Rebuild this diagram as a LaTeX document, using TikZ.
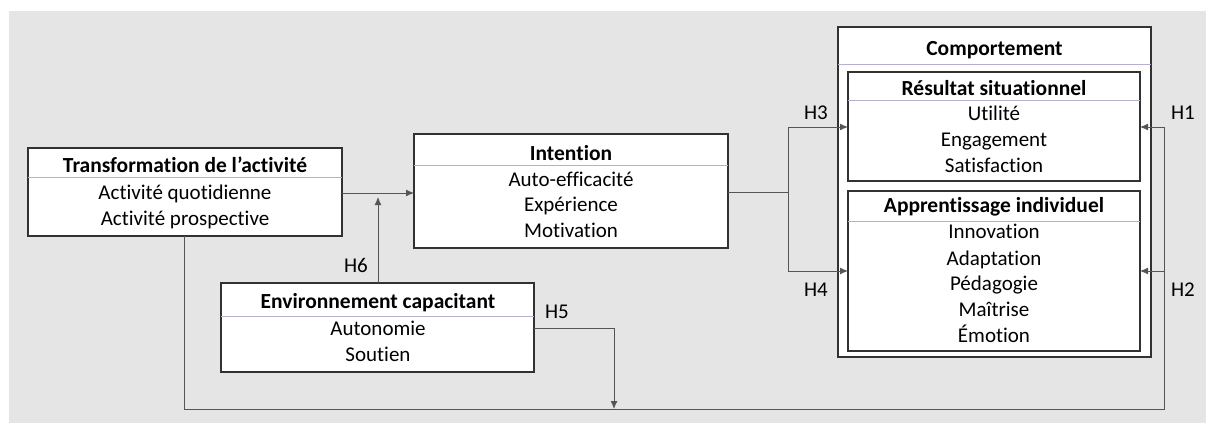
\documentclass[tikz,border=0pt]{standalone}
\usepackage{fontspec}
\setmainfont[Ligatures={NoCommon}]{Carlito}
\usetikzlibrary{arrows.meta}
\definecolor{bg}{RGB}{230,229,229}
\definecolor{sep}{RGB}{185,175,205}
\definecolor{boxline}{RGB}{50,50,50}
\definecolor{conn}{RGB}{85,85,85}
\tikzset{
  boxframe/.style={draw=boxline, line width=1.3pt, fill=white},
  sepline/.style={draw=sep, line width=0.8pt},
  txt/.style={inner sep=0pt, anchor=base},
  ttl/.style={txt, font=\fontsize{21.5}{24}\selectfont\bfseries},
  itm/.style={txt, font=\fontsize{21}{24}\selectfont},
  lbl/.style={txt, font=\fontsize{21}{24}\selectfont},
  conline/.style={draw=conn, line width=1pt},
  arr/.style={conline, -{Latex[length=8pt,width=7pt]}}
}
\begin{document}
\begin{tikzpicture}[x=1pt,y=-1pt]
\useasboundingbox (0,0) rectangle (1206,423);
\fill[white] (0,0) rectangle (1206,423);
\fill[bg] (9,11) rectangle (1206,423);

% Transformation box
\draw[boxframe] (28,148) rectangle (342,236);
\draw[sepline] (28,177) -- (342,177);
\node[ttl] (tt) at (185,172.7) {Transformation de l’activité};
\node[itm] (t1) at (185,199.3) {Activité quotidienne};
\node[itm] (t2) at (185,225.3) {Activité prospective};
\coordinate (tR) at (342,193);
\coordinate (tB) at (184,236);

% Intention box
\draw[boxframe] (414,134) rectangle (728,248);
\draw[sepline] (414,165) -- (728,165);
\node[ttl] (it) at (571,160) {Intention};
\node[itm] (i1) at (571,186) {Auto-efficacité};
\node[itm] (i2) at (571,211.7) {Expérience};
\node[itm] (i3) at (571,237.3) {Motivation};
\coordinate (iL) at (414,193);
\coordinate (iR) at (728,192);

% Environnement box
\draw[boxframe] (221,283) rectangle (534,372);
\draw[sepline] (221,316) -- (534,316);
\node[ttl] (et) at (378,308.3) {Environnement capacitant};
\node[itm] (e1) at (378,335) {Autonomie};
\node[itm] (e2) at (378,361) {Soutien};
\coordinate (eT) at (378,283);
\coordinate (eR) at (534,328);

% Comportement outer box
\draw[boxframe] (838,27) rectangle (1151,357);
\draw[sepline] (838,64) -- (1151,64);
\node[ttl] (ct) at (994.5,55) {Comportement};

% Résultat box
\draw[boxframe] (848,72) rectangle (1140,181);
\draw[sepline] (848,100) -- (1140,100);
\node[ttl] (rt) at (994,95) {Résultat situationnel};
\node[itm] (r1) at (994,120.7) {Utilité};
\node[itm] (r2) at (994,146.7) {Engagement};
\node[itm] (r3) at (994,172.7) {Satisfaction};
\coordinate (rL) at (848,127);
\coordinate (rR) at (1140,127);

% Apprentissage box
\draw[boxframe] (848,191) rectangle (1140,351);
\draw[sepline] (848,221) -- (1140,221);
\node[ttl] (at) at (994,212.3) {Apprentissage individuel};
\node[itm] (a1) at (994,238.3) {Innovation};
\node[itm] (a2) at (994,265) {Adaptation};
\node[itm] (a3) at (994,290.7) {Pédagogie};
\node[itm] (a4) at (994,316.7) {Maîtrise};
\node[itm] (a5) at (994,342.7) {Émotion};
\coordinate (aL) at (848,271);
\coordinate (aR) at (1140,271);

% connectors
\draw[arr] (tR) -- (iL);
\coordinate (h6end) at (378,197);
\draw[arr] (eT) -- (h6end);
\node[lbl] (h6) at (356,272.7) {H6};

\coordinate (br) at (788,192);
\draw[conline] (iR) -- (br);
\draw[arr] (br) |- (rL);
\draw[arr] (br) |- (aL);
\node[lbl] (h3) at (816,119) {H3};
\node[lbl] (h4) at (816,296.7) {H4};

\coordinate (bl) at (184,409);
\coordinate (brc) at (1164,409);
\coordinate (bu1) at (1164,127);
\coordinate (bu2) at (1164,271);
\draw[conline] (tB) -- (bl) -- (brc) -- (bu1);
\draw[arr] (bu1) -- (rR);
\draw[arr] (bu2) -- (aR);
\node[lbl] (h1) at (1183,119) {H1};
\node[lbl] (h2) at (1183,296.7) {H2};

\coordinate (h5c) at (614,328);
\coordinate (h5e) at (614,409);
\draw[arr] (eR) -- (h5c) -- (h5e);
\node[lbl] (h5) at (557,318.3) {H5};
\end{tikzpicture}
\end{document}
